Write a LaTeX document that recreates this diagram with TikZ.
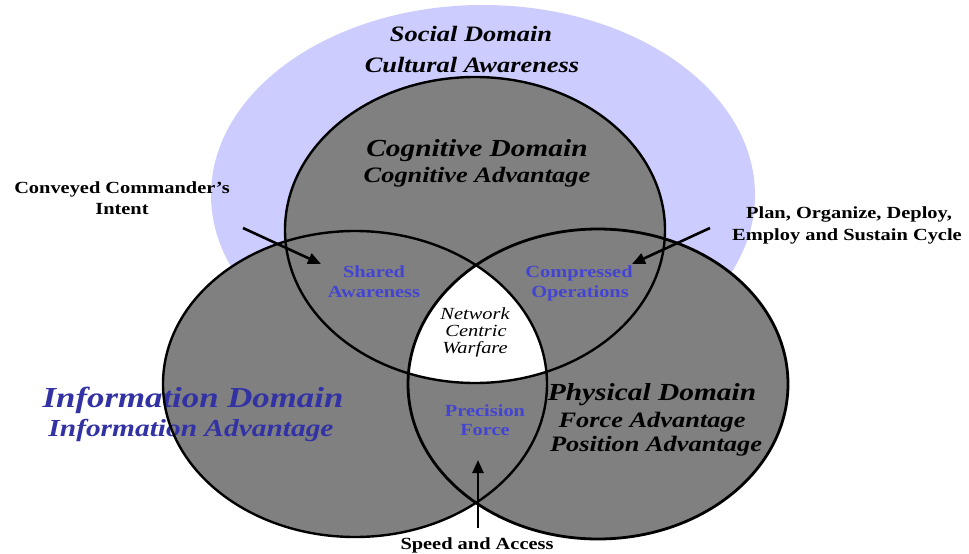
\documentclass[tikz,border=0pt]{standalone}
\usepackage{fontspec}
\setmainfont[FakeStretch=1.2]{Liberation Serif}
\usetikzlibrary{arrows.meta}

\definecolor{socialfill}{RGB}{204,204,255}
\definecolor{realmfill}{RGB}{128,128,128}
\definecolor{infoblue}{RGB}{50,50,165}
\definecolor{effectblue}{RGB}{68,68,210}

\tikzset{
  realm/.style={fill=realmfill},
  rim/.style={draw=black, line width=2.4pt},
  lab/.style={font=\bfseries\itshape\fontsize{#1}{#1}\selectfont, anchor=base, inner sep=0pt},
  effect/.style={font=\bfseries\fontsize{17}{17}\selectfont, text=effectblue, anchor=base, inner sep=0pt},
  note/.style={font=\bfseries\fontsize{17}{17}\selectfont, anchor=base, inner sep=0pt},
  ncwtext/.style={font=\itshape\fontsize{17}{17}\selectfont, anchor=base, inner sep=0pt},
  push/.style={line width=2.6pt, -{Triangle[length=13pt,width=11pt]}},
}

\begin{document}
\begin{tikzpicture}[x=1pt,y=-1pt]
\useasboundingbox (0,0) rectangle (969,554);

% social domain backdrop
\fill[socialfill] (483,195) ellipse [x radius=272, y radius=190];

% the three overlapping domains
\fill[realm] (475,230) ellipse [x radius=190, y radius=153];
\fill[realm] (355,384) ellipse [x radius=192, y radius=153];
\fill[realm] (598,384) ellipse [x radius=190, y radius=155];

% common core of all three domains
\begin{scope}
  \clip (475,230) ellipse [x radius=190, y radius=153];
  \clip (355,384) ellipse [x radius=192, y radius=153];
  \fill[white] (598,384) ellipse [x radius=190, y radius=155];
\end{scope}

% domain labels
\node[lab=22] (socA) at (471,41) {Social Domain};
\node[lab=22] (socB) at (472,72) {Cultural Awareness};

\node[lab=24.5] (cogA) at (477,156) {Cognitive Domain};
\node[lab=22] (cogB) at (477,182) {Cognitive Advantage};

\node[lab=29, text=infoblue] (infA) at (193,407) {Information Domain};
\node[lab=24.5, text=infoblue] (infB) at (191,436) {Information Advantage};

\node[lab=24.5] (phyA) at (652,400) {Physical Domain};
\node[lab=22] (phyB) at (652,427) {Force Advantage};
\node[lab=22] (phyC) at (656,451) {Position Advantage};

% pairwise overlaps
\node[effect] (shA) at (374,277) {Shared};
\node[effect] (shB) at (374,297) {Awareness};
\node[effect] (coA) at (579,277) {Compressed};
\node[effect] (coB) at (580,297) {Operations};
\node[effect] (prA) at (485,416) {Precision};
\node[effect] (prB) at (485,435) {Force};

% centre
\node[ncwtext] (ncwA) at (475,319) {Network};
\node[ncwtext] (ncwB) at (476,336) {Centric};
\node[ncwtext] (ncwC) at (475,353) {Warfare};

% outlines
\draw[rim] (475,230) ellipse [x radius=190, y radius=153];
\draw[rim] (355,384) ellipse [x radius=192, y radius=153];
\draw[rim, line width=2.8pt] (598,384) ellipse [x radius=190, y radius=155];

% outside annotations
\node[note] (ciA) at (122,193) {Conveyed Commander’s};
\node[note] (ciB) at (122,214) {Intent};
\node[note] (pdA) at (849,218) {Plan, Organize, Deploy,};
\node[note] (pdB) at (847,240) {Employ and Sustain Cycle};
\node[note] (sa) at (477,549) {Speed and Access};

% annotation arrows
\coordinate (ciFrom) at (243,228);
\coordinate (ciTo) at (321,264);
\coordinate (pdFrom) at (710,228);
\coordinate (pdTo) at (632,264);
\coordinate (saFrom) at (478,528);
\coordinate (saTo) at (478,460);
\draw[push] (ciFrom) -- (ciTo);
\draw[push] (pdFrom) -- (pdTo);
\draw[push] (saFrom) -- (saTo);
\end{tikzpicture}
\end{document}
